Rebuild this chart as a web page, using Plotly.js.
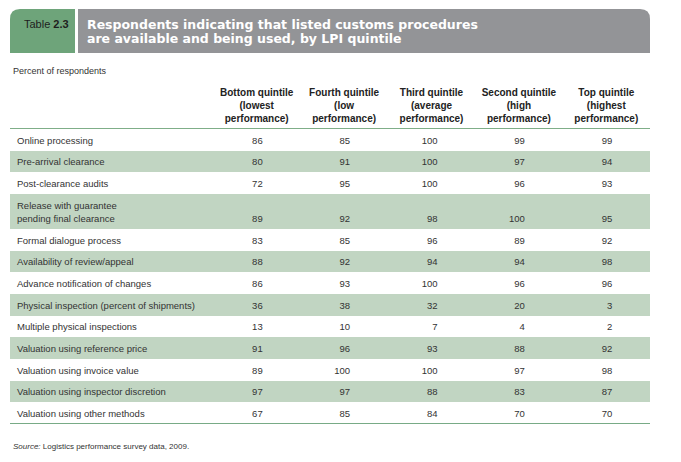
<!DOCTYPE html>
<html>
<head>
<meta charset="utf-8">
<script src="https://cdn.plot.ly/plotly-3.0.1.min.js"></script>
<style>html,body{margin:0;padding:0;background:#fff;}#chart{width:681px;height:462px;}</style>
</head>
<body>
<div id="chart"></div>
<script>
// ---- data ----
var categories = [
  "Online processing",
  "Pre-arrival clearance",
  "Post-clearance audits",
  "Release with guarantee<br>pending final clearance",
  "Formal dialogue process",
  "Availability of review/appeal",
  "Advance notification of changes",
  "Physical inspection (percent of shipments)",
  "Multiple physical inspections",
  "Valuation using reference price",
  "Valuation using invoice value",
  "Valuation using inspector discretion",
  "Valuation using other methods"
];
var columnHeaders = [
  "Bottom quintile<br>(lowest<br>performance)",
  "Fourth quintile<br>(low<br>performance)",
  "Third quintile<br>(average<br>performance)",
  "Second quintile<br>(high<br>performance)",
  "Top quintile<br>(highest<br>performance)"
];
var bottomQuintile = [86, 80, 72, 89, 83, 88, 86, 36, 13, 91, 89, 97, 67];
var fourthQuintile = [85, 91, 95, 92, 85, 92, 93, 38, 10, 96, 100, 97, 85];
var thirdQuintile  = [100, 100, 100, 98, 96, 94, 100, 32, 7, 93, 100, 88, 84];
var secondQuintile = [99, 97, 96, 100, 89, 94, 96, 20, 4, 88, 97, 83, 70];
var topQuintile    = [99, 94, 93, 95, 92, 98, 96, 3, 2, 92, 98, 87, 70];
var tableLabel = "Table <b>2.3</b>";
var titleLines = ["Respondents indicating that listed customs procedures",
                  "are available and being used, by LPI quintile"];
var unitNote = "Percent of respondents";
var sourceNote = "<i>Source:</i> Logistics performance survey data, 2009.";

// ---- layout helpers ----
var W = 681, H = 462;
function px(x){ return x / W; }
function py(y){ return 1 - y / H; }
var SANS = '"Liberation Sans", Arial, Helvetica, sans-serif';
var TITLEFONT = '"DejaVu Sans", "Liberation Sans", Arial, sans-serif';
var GREEN_ROW = '#c1d5c2';
var TEXT = '#333333';

var series = [bottomQuintile, fourthQuintile, thirdQuintile, secondQuintile, topQuintile];
var nCols = series.length;
var colPx = 87.4, tablePx = 640, bodyTopPx = 129, bodyBottomPx = 424;
var xRight = nCols + 0.5;
var xLeft = xRight - tablePx / colPx;

// row geometry in row units (a label with two lines makes a taller row)
var rowH = categories.map(function(c){ return 1 + 0.62 * (c.split('<br>').length - 1); });
var rowBottom = [], rowMid = [], acc = 0;
rowH.forEach(function(h){ acc += h; rowBottom.push(acc); rowMid.push(acc - h / 2); });
var total = acc;
var rowPx = (bodyBottomPx - bodyTopPx) / total;
var textNudge = 1.5 / rowPx;   // small optical downward nudge of text baselines

var traces = [];
// stripes
traces.push({
  type: 'bar', orientation: 'h',
  y: rowMid, x: rowH.map(function(){ return xRight - xLeft; }), base: xLeft,
  width: rowH,
  marker: { color: categories.map(function(_, i){ return i % 2 === 1 ? GREEN_ROW : 'rgba(255,255,255,0)'; }),
            line: { width: 0 } },
  hoverinfo: 'skip', showlegend: false
});
// row labels
traces.push({
  type: 'scatter', mode: 'text',
  x: categories.map(function(){ return xLeft + 7 / colPx; }),
  y: rowMid.map(function(m){ return m + textNudge; }),
  text: categories, textposition: 'middle right',
  textfont: { family: SANS, size: 9.5, color: TEXT },
  hoverinfo: 'skip', showlegend: false, cliponaxis: false
});
// values
series.forEach(function(arr, j){
  traces.push({
    type: 'scatter', mode: 'text',
    x: arr.map(function(){ return (j + 1) + 6 / colPx; }),
    y: rowBottom.map(function(b){ return b - 0.5 + textNudge; }),
    text: arr.map(String), textposition: 'middle left',
    textfont: { family: SANS, size: 9.5, color: TEXT },
    hoverinfo: 'skip', showlegend: false, cliponaxis: false
  });
});

var shapes = [
  { type: 'path', xref: 'paper', yref: 'paper',
    path: 'M ' + px(10) + ' ' + py(53) + ' L ' + px(10) + ' ' + py(19) +
          ' Q ' + px(10) + ' ' + py(9) + ' ' + px(20) + ' ' + py(9) +
          ' L ' + px(75) + ' ' + py(9) + ' L ' + px(75) + ' ' + py(53) + ' Z',
    fillcolor: '#6ea47a', line: { width: 0 } },
  { type: 'path', xref: 'paper', yref: 'paper',
    path: 'M ' + px(78) + ' ' + py(53) + ' L ' + px(78) + ' ' + py(9) +
          ' L ' + px(640) + ' ' + py(9) +
          ' Q ' + px(650) + ' ' + py(9) + ' ' + px(650) + ' ' + py(19) +
          ' L ' + px(650) + ' ' + py(53) + ' Z',
    fillcolor: '#939497', line: { width: 0 } },
  { type: 'line', xref: 'paper', yref: 'y', x0: px(10), x1: px(650), y0: total, y1: total,
    line: { color: '#4b8f5e', width: 1.5 } }
];

var annotations = [
  { text: tableLabel, xref: 'paper', yref: 'paper', x: px(22), y: py(24), xanchor: 'left', yanchor: 'middle',
    showarrow: false, font: { family: SANS, size: 11, color: '#1e1e1e' } },
  { text: '<b>' + titleLines[0] + '</b>', xref: 'paper', yref: 'paper', x: px(85), y: py(24), xanchor: 'left', yanchor: 'middle',
    showarrow: false, font: { family: TITLEFONT, size: 12.5, color: '#ffffff' } },
  { text: '<b>' + titleLines[1] + '</b>', xref: 'paper', yref: 'paper', x: px(85), y: py(39), xanchor: 'left', yanchor: 'middle',
    showarrow: false, font: { family: TITLEFONT, size: 12.5, color: '#ffffff' } },
  { text: unitNote, xref: 'paper', yref: 'paper', x: px(11), y: py(71), xanchor: 'left', yanchor: 'middle',
    showarrow: false, font: { family: SANS, size: 9, color: TEXT } },
  { text: sourceNote, xref: 'paper', yref: 'paper', x: px(11), y: py(446), xanchor: 'left', yanchor: 'middle',
    showarrow: false, font: { family: SANS, size: 8, color: TEXT } }
];

var layout = {
  width: W, height: H,
  margin: { l: 0, r: 0, t: 0, b: 0 },
  paper_bgcolor: '#ffffff', plot_bgcolor: 'rgba(0,0,0,0)',
  showlegend: false, bargap: 0,
  xaxis: {
    domain: [px(10), px(650)], range: [xLeft, xRight],
    side: 'top', tickmode: 'array',
    tickvals: columnHeaders.map(function(_, j){ return j + 1; }),
    ticktext: columnHeaders.map(function(h){ return '<b>' + h + '</b>'; }),
    tickfont: { family: SANS, size: 10, color: '#222222' },
    ticks: '', ticklabelstandoff: 2, showgrid: false, zeroline: false,
    showline: true, linecolor: '#7fae88', linewidth: 1.5,
    fixedrange: true
  },
  yaxis: {
    domain: [py(bodyBottomPx), py(bodyTopPx)], range: [total, 0],
    visible: false, showgrid: false, zeroline: false, fixedrange: true
  },
  shapes: shapes,
  annotations: annotations
};

Plotly.newPlot('chart', traces, layout, { displayModeBar: false, staticPlot: true });
</script>
</body>
</html>
